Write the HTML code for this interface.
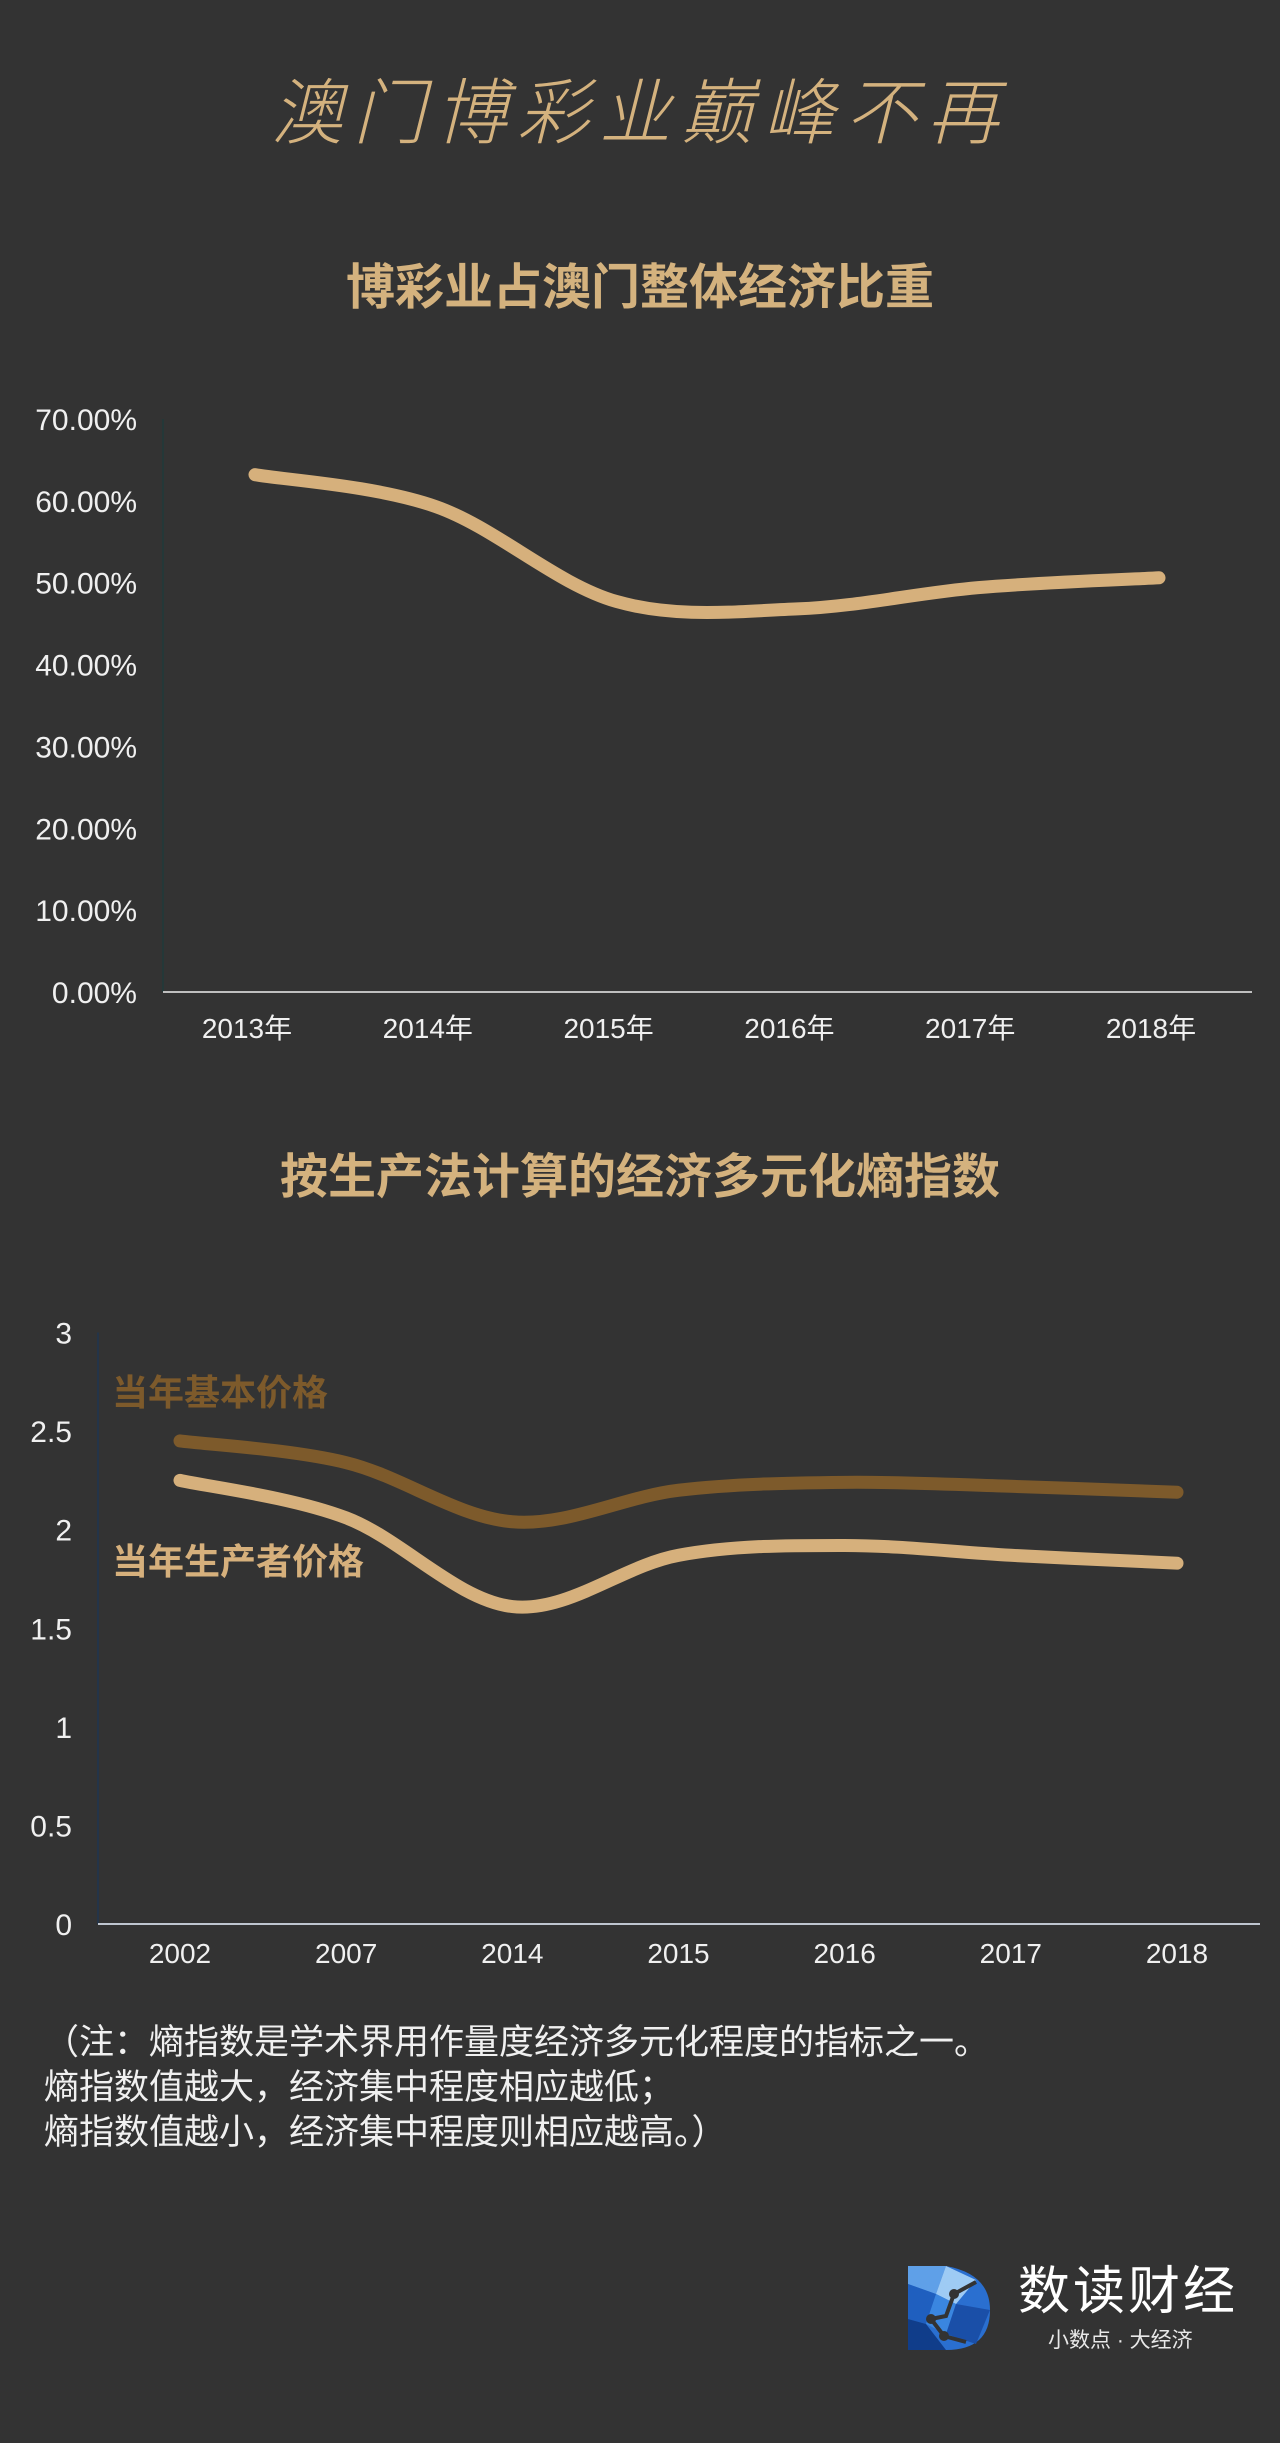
<!DOCTYPE html>
<html><head><meta charset="utf-8">
<style>
html,body{margin:0;padding:0;background:#333333;}
body{width:1280px;height:2443px;position:relative;overflow:hidden;font-family:"Liberation Sans","Noto Sans CJK SC",sans-serif;}
.abs{position:absolute;}
#main-title{left:0;width:1280px;top:70px;text-align:center;font-size:72px;color:#d4b27e;font-weight:300;letter-spacing:10px;font-style:italic;line-height:88px;}
.sub{left:0;width:1280px;text-align:center;font-size:49px;font-weight:bold;color:#d4b27e;line-height:56px;}
.note{left:44px;color:#f0f0f0;font-size:35px;line-height:45px;}
</style></head>
<body>
<div id="main-title" class="abs">澳门博彩业巅峰不再</div>
<div class="abs sub" style="top:260px">博彩业占澳门整体经济比重</div>
<div class="abs sub" style="top:1150px;font-size:48px">按生产法计算的经济多元化熵指数</div>

<svg class="abs" style="left:0;top:0" width="1280" height="2443" id="charts">
<g id="c1"></g>
<g id="c2"></g>
</svg>

<div class="abs note" style="top:2020px">（注：熵指数是学术界用作量度经济多元化程度的指标之一。<br>熵指数值越大，经济集中程度相应越低；<br>熵指数值越小，经济集中程度则相应越高。）</div>

<svg class="abs" style="left:906px;top:2264px" width="86" height="88">
<path d="M2 2 H40 Q84 10 84 46 Q84 86 40 86 H2 Z" fill="#2a6fd0"/>
<polygon points="2,2 40,2 30,30 2,20" fill="#5fa0e8"/>
<polygon points="40,2 70,16 50,40 30,30" fill="#9ecbf4"/>
<polygon points="2,20 30,30 20,60 2,55" fill="#1f5fbf"/>
<polygon points="30,30 50,40 40,70 20,60" fill="#3a86e0"/>
<polygon points="50,40 84,46 70,80 40,70" fill="#1a4fa8"/>
<polygon points="2,55 20,60 40,86 2,86" fill="#103d8a"/>
<polyline points="25,55 40,52 48,30 70,18" fill="none" stroke="#333" stroke-width="4"/>
<polyline points="25,55 38,72 60,78" fill="none" stroke="#333" stroke-width="4"/>
<circle cx="25" cy="55" r="5" fill="#333"/><circle cx="48" cy="30" r="5" fill="#333"/><circle cx="38" cy="72" r="5" fill="#333"/>
</svg>
<div class="abs" style="left:1018px;top:2262px;font-size:52px;color:#fff;line-height:60px;letter-spacing:3px">数读财经</div>
<div class="abs" style="left:1048px;top:2328px;font-size:21px;color:#e8e8e8;line-height:26px">小数点 · 大经济</div>

<script>
// Chart 1 data
const years1 = ["2013年","2014年","2015年","2016年","2017年","2018年"];
const share1 = [63.2, 59.3, 47.7, 46.8, 49.4, 50.6];
const ticks1 = [0,10,20,30,40,50,60,70];
const tickLabels1 = ["0.00%","10.00%","20.00%","30.00%","40.00%","50.00%","60.00%","70.00%"];
// Chart 2 data
const years2 = ["2002","2007","2014","2015","2016","2017","2018"];
const basicPrice = [2.45, 2.34, 2.04, 2.20, 2.24, 2.22, 2.19];
const producerPrice = [2.25, 2.06, 1.61, 1.87, 1.92, 1.87, 1.83];
const ticks2 = [0,0.5,1,1.5,2,2.5,3];
const tickLabels2 = ["0","0.5","1","1.5","2","2.5","3"];

const NS="http://www.w3.org/2000/svg";
function mk(tag, attrs, parent){const e=document.createElementNS(NS,tag);for(const k in attrs)e.setAttribute(k,attrs[k]);parent.appendChild(e);return e;}
function smooth(pts){
  let d="M"+pts[0][0]+","+pts[0][1];
  for(let i=0;i<pts.length-1;i++){
    const p0=pts[Math.max(0,i-1)],p1=pts[i],p2=pts[i+1],p3=pts[Math.min(pts.length-1,i+2)];
    const t=6;
    d+=" C"+(p1[0]+(p2[0]-p0[0])/t)+","+(p1[1]+(p2[1]-p0[1])/t)+" "+(p2[0]-(p3[0]-p1[0])/t)+","+(p2[1]-(p3[1]-p1[1])/t)+" "+p2[0]+","+p2[1];
  }
  return d;
}

// ---- Chart 1
(function(){
  const g=document.getElementById('c1');
  const x0=163,x1=1252,yBase=992,yTop=419,vmax=70;
  const px0=255,px1=1159;
  const xs=i=>px0+(px1-px0)*i/(years1.length-1);
  const ys=v=>yBase-(yBase-yTop)*v/vmax;
  const ax=mk('line',{x1:x0,y1:yTop,x2:x0,y2:yBase,stroke:'#1f3a3a','stroke-width':1.5},g);
  
  
  const bx=mk('line',{x1:x0,y1:yBase,x2:x1,y2:yBase,stroke:'#bfbfbf','stroke-width':2},g);
  
  
  ticks1.forEach((t,i)=>{
    const tx=mk('text',{x:137,y:ys(t)+11,'text-anchor':'end','font-size':30,fill:'#f0f0f0','font-family':'Liberation Sans, sans-serif'},g);
    tx.textContent=tickLabels1[i];
    
    
  });
  years1.forEach((y,i)=>{
    const tx=mk('text',{x:xs(i)-8,y:1038,'text-anchor':'middle','font-size':28,fill:'#f0f0f0','font-family':'Liberation Sans, Noto Sans CJK SC, sans-serif'},g);
    tx.textContent=y;
    
    
  });
  const p=mk('path',{d:smooth(share1.map((v,i)=>[xs(i),ys(v)])),fill:'none',stroke:'#d6b07c','stroke-width':13,'stroke-linecap':'round'},g);
  
  
})();

// ---- Chart 2
(function(){
  const g=document.getElementById('c2');
  const x0=98,x1=1260,yBase=1924,yTop=1332.5,vmax=3;
  const px0=180,px1=1177;
  const xs=i=>px0+(px1-px0)*i/(years2.length-1);
  const ys=v=>yBase-(yBase-yTop)*v/vmax;
  const ax=mk('line',{x1:x0,y1:yTop,x2:x0,y2:yBase,stroke:'#1f3550','stroke-width':1.5},g);
  
  
  const bx=mk('line',{x1:x0,y1:yBase,x2:x1,y2:yBase,stroke:'#bfc6d0','stroke-width':2},g);
  
  
  ticks2.forEach((t,i)=>{
    const tx=mk('text',{x:72,y:ys(t)+11,'text-anchor':'end','font-size':30,fill:'#f0f0f0','font-family':'Liberation Sans, sans-serif'},g);
    tx.textContent=tickLabels2[i];
    
    
  });
  years2.forEach((y,i)=>{
    const tx=mk('text',{x:xs(i),y:1963,'text-anchor':'middle','font-size':28,fill:'#f0f0f0','font-family':'Liberation Sans, sans-serif'},g);
    tx.textContent=y;
    
    
  });
  const p1=mk('path',{d:smooth(basicPrice.map((v,i)=>[xs(i),ys(v)])),fill:'none',stroke:'#7d5a2b','stroke-width':13,'stroke-linecap':'round'},g);
  
  
  const p2=mk('path',{d:smooth(producerPrice.map((v,i)=>[xs(i),ys(v)])),fill:'none',stroke:'#d6b07c','stroke-width':13,'stroke-linecap':'round'},g);
  
  
  const l1=mk('text',{x:112,y:1405,'font-size':36,'font-weight':'bold',fill:'#7d5a2b','font-family':'Liberation Sans, Noto Sans CJK SC, sans-serif'},g);
  l1.textContent='当年基本价格';
  
  
  const l2=mk('text',{x:112,y:1574,'font-size':36,'font-weight':'bold',fill:'#d6b07c','font-family':'Liberation Sans, Noto Sans CJK SC, sans-serif'},g);
  l2.textContent='当年生产者价格';
  
  
})();
</script>
</body></html>
